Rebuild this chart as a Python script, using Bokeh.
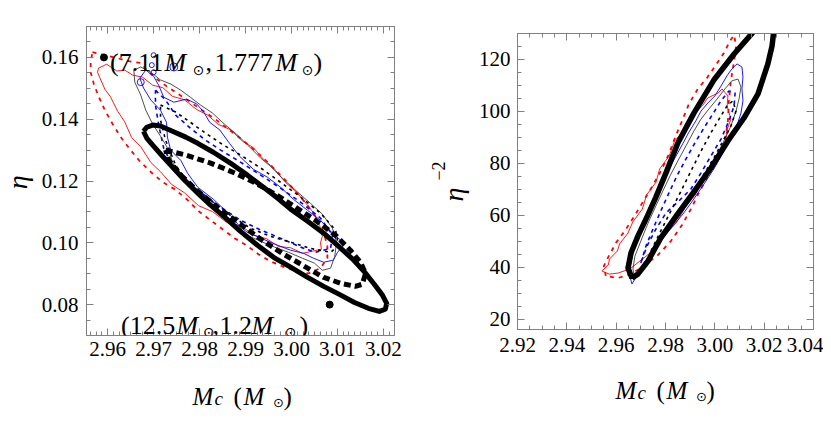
import math
from bokeh.plotting import figure
from bokeh.models import Label, LinearAxis, FixedTicker, CustomJSTickFormatter, Range1d
from bokeh.layouts import row, column
from bokeh.core.properties import value
from bokeh.embed import file_html
from bokeh.resources import INLINE

SERIF = "Liberation Serif"
SYM = "DejaVu Sans"
GRAY = "#808080"
RED = "#ff0000"
BLUE = "#0000ff"
THIN_BLACK = "#3a3a3a"

# ======================= LEFT PANEL DATA (Mc, eta) =======================
L_xticks = [2.96, 2.97, 2.98, 2.99, 3.00, 3.01, 3.02]
L_xtick_labels = ["2.96", "2.97", "2.98", "2.99", "3.00", "3.01", "3.02"]
L_yticks = [0.08, 0.10, 0.12, 0.14, 0.16]
L_ytick_labels = ["0.08", "0.10", "0.12", "0.14", "0.16"]

# Fisher ellipse (thick solid)
L_ell_x = [2.9678, 2.9685, 2.9698, 2.9715, 2.9741, 2.9770, 2.9796, 2.9830, 2.9867, 2.9904, 2.9939,
           2.9970, 2.9998, 3.0035, 3.0070, 3.0102, 3.0133, 3.0159, 3.0180, 3.0198, 3.0207, 3.0204,
           3.0191, 3.0167, 3.0137, 3.0104, 3.0070, 3.0035, 2.9998, 2.9961, 2.9926, 2.9889, 2.9857,
           2.9824, 2.9796, 2.9767, 2.9741, 2.9717, 2.9698, 2.9685, 2.9678]
L_ell_y = [0.1361, 0.1374, 0.1381, 0.1378, 0.1361, 0.1342, 0.1322, 0.1293, 0.1258, 0.1219, 0.1180,
           0.1144, 0.1109, 0.1070, 0.1031, 0.0989, 0.0947, 0.0905, 0.0866, 0.0830, 0.0804, 0.0785,
           0.0778, 0.0788, 0.0807, 0.0833, 0.0859, 0.0888, 0.0921, 0.0953, 0.0992, 0.1037, 0.1080,
           0.1122, 0.1161, 0.1203, 0.1245, 0.1284, 0.1316, 0.1339, 0.1361]

# thick dashed contour
L_tdash_x = [2.9726, 2.9770, 2.9824, 2.9878, 2.9922, 2.9965, 3.0009, 3.0052, 3.0096, 3.0128, 3.0150,
             3.0161, 3.0154, 3.0139, 3.0107, 3.0070, 3.0035, 2.9983, 2.9939, 2.9889, 2.9839, 2.9796,
             2.9759, 2.9733, 2.9726]
L_tdash_y = [0.1300, 0.1284, 0.1258, 0.1225, 0.1193, 0.1157, 0.1115, 0.1073, 0.1024, 0.0976, 0.0937,
             0.0901, 0.0866, 0.0859, 0.0869, 0.0888, 0.0918, 0.0963, 0.1005, 0.1060, 0.1115, 0.1167,
             0.1219, 0.1267, 0.1300]

# red solid contour
L_red_x = [2.9580, 2.9598, 2.9620, 2.9637, 2.9654, 2.9676, 2.9698, 2.9720, 2.9741, 2.9767, 2.9794,
           2.9817, 2.9841, 2.9867, 2.9894, 2.9917, 2.9939, 2.9961, 2.9987, 3.0011, 3.0033, 3.0050,
           3.0061, 3.0067, 3.0063, 3.0065, 3.0046, 3.0024, 2.9998, 2.9972, 2.9946, 2.9920, 2.9889,
           2.9859, 2.9828, 2.9798, 2.9767, 2.9739, 2.9715, 2.9694, 2.9672, 2.9652, 2.9637, 2.9622,
           2.9606, 2.9594, 2.9583, 2.9578, 2.9580]
L_red_y = [0.1565, 0.1578, 0.1556, 0.1559, 0.1543, 0.1536, 0.1510, 0.1502, 0.1474, 0.1463, 0.1431,
           0.1414, 0.1383, 0.1366, 0.1328, 0.1308, 0.1270, 0.1242, 0.1195, 0.1164, 0.1125, 0.1093,
           0.1057, 0.1021, 0.0999, 0.0979, 0.0973, 0.0966, 0.0984, 0.0988, 0.1013, 0.1024, 0.1055,
           0.1066, 0.1101, 0.1120, 0.1162, 0.1189, 0.1230, 0.1260, 0.1311, 0.1341, 0.1392, 0.1425,
           0.1473, 0.1497, 0.1534, 0.1552, 0.1565]

# red dashed contour
L_redd_x = [2.9567, 2.9594, 2.9620, 2.9646, 2.9672, 2.9685, 2.9704, 2.9728, 2.9754, 2.9780, 2.9809,
            2.9837, 2.9865, 2.9894, 2.9922, 2.9950, 2.9978, 3.0007, 3.0033, 3.0054, 3.0070, 3.0078,
            3.0078, 3.0063, 3.0037, 3.0009, 2.9980, 2.9954, 2.9928, 2.9902, 2.9876, 2.9850, 2.9824,
            2.9798, 2.9772, 2.9746, 2.9720, 2.9694, 2.9670, 2.9650, 2.9630, 2.9611, 2.9594, 2.9580,
            2.9570, 2.9563, 2.9563, 2.9567]
L_redd_y = [0.1617, 0.1607, 0.1598, 0.1588, 0.1582, 0.1559, 0.1533, 0.1507, 0.1481, 0.1455, 0.1426,
            0.1397, 0.1365, 0.1332, 0.1297, 0.1258, 0.1216, 0.1170, 0.1125, 0.1080, 0.1034, 0.0989,
            0.0950, 0.0918, 0.0901, 0.0908, 0.0924, 0.0940, 0.0963, 0.0992, 0.1015, 0.1044, 0.1073,
            0.1102, 0.1141, 0.1173, 0.1196, 0.1229, 0.1264, 0.1300, 0.1339, 0.1384, 0.1429, 0.1475,
            0.1514, 0.1552, 0.1585, 0.1617]

# blue solid contour
L_blue_x = [2.9670, 2.9683, 2.9700, 2.9711, 2.9722, 2.9744, 2.9772, 2.9794, 2.9809, 2.9822, 2.9844,
            2.9865, 2.9887, 2.9917, 2.9948, 2.9976, 3.0004, 3.0035, 3.0063, 3.0085, 3.0107, 3.0111,
            3.0100, 3.0091, 3.0070, 3.0048, 3.0026, 2.9998, 2.9970, 2.9933, 2.9904, 2.9889, 2.9867,
            2.9830, 2.9796, 2.9774, 2.9759, 2.9737, 2.9730, 2.9728, 2.9715, 2.9694, 2.9678, 2.9670]
L_blue_y = [0.1533, 0.1559, 0.1539, 0.1510, 0.1471, 0.1455, 0.1465, 0.1449, 0.1423, 0.1390, 0.1365,
            0.1322, 0.1280, 0.1238, 0.1212, 0.1180, 0.1141, 0.1105, 0.1073, 0.1037, 0.1008, 0.0989,
            0.0969, 0.0944, 0.0937, 0.0950, 0.0966, 0.0976, 0.0992, 0.1015, 0.1034, 0.1050, 0.1089,
            0.1141, 0.1180, 0.1225, 0.1267, 0.1300, 0.1342, 0.1390, 0.1429, 0.1462, 0.1501, 0.1533]

# blue dashed contour
L_blued_x = [2.9704, 2.9726, 2.9748, 2.9780, 2.9813, 2.9846, 2.9889, 2.9933, 2.9976, 3.0020, 3.0063,
             3.0089, 3.0085, 3.0052, 3.0020, 2.9976, 2.9933, 2.9889, 2.9846, 2.9802, 2.9770, 2.9741,
             2.9722, 2.9711, 2.9704, 2.9704]
L_blued_y = [0.1494, 0.1462, 0.1413, 0.1371, 0.1332, 0.1300, 0.1261, 0.1219, 0.1177, 0.1131, 0.1080,
             0.1025, 0.0982, 0.0969, 0.0986, 0.1015, 0.1041, 0.1073, 0.1115, 0.1164, 0.1203, 0.1251,
             0.1306, 0.1381, 0.1446, 0.1494]

# small blue islands
L_isl_x = [2.9700, 2.9696, 2.9744, 2.9700, 2.9672]
L_isl_y = [0.1607, 0.1575, 0.1569, 0.1552, 0.1520]

# black thin solid contour
L_blk_x = [2.9657, 2.9672, 2.9694, 2.9715, 2.9737, 2.9759, 2.9780, 2.9802, 2.9828, 2.9854, 2.9880,
           2.9907, 2.9933, 2.9954, 2.9980, 3.0011, 3.0041, 3.0067, 3.0089, 3.0098, 3.0094, 3.0085,
           3.0067, 3.0050, 3.0024, 2.9994, 2.9963, 2.9928, 2.9898, 2.9872, 2.9841, 2.9811, 2.9780,
           2.9759, 2.9741, 2.9733, 2.9715, 2.9698, 2.9683, 2.9672, 2.9659, 2.9657]
L_blk_y = [0.1559, 0.1569, 0.1552, 0.1527, 0.1514, 0.1494, 0.1471, 0.1446, 0.1420, 0.1384, 0.1352,
           0.1313, 0.1274, 0.1248, 0.1209, 0.1167, 0.1128, 0.1093, 0.1047, 0.1002, 0.0956, 0.0918,
           0.0911, 0.0934, 0.0950, 0.0969, 0.0986, 0.1008, 0.1028, 0.1060, 0.1102, 0.1138, 0.1177,
           0.1216, 0.1261, 0.1300, 0.1345, 0.1384, 0.1429, 0.1478, 0.1520, 0.1559]

# black thin dashed contour
L_blkd_x = [2.9715, 2.9748, 2.9780, 2.9813, 2.9846, 2.9889, 2.9933, 2.9976, 3.0020, 3.0063, 3.0096,
            3.0102, 3.0085, 3.0041, 2.9998, 2.9954, 2.9911, 2.9867, 2.9824, 2.9780, 2.9748, 2.9726,
            2.9715, 2.9715]
L_blkd_y = [0.1446, 0.1423, 0.1390, 0.1355, 0.1322, 0.1284, 0.1242, 0.1196, 0.1148, 0.1096, 0.1041,
            0.0992, 0.0969, 0.0982, 0.1002, 0.1021, 0.1047, 0.1089, 0.1138, 0.1186, 0.1251, 0.1332,
            0.1397, 0.1446]

# injected systems (7.11, 1.777) and (12.5, 1.2) Msun
L_pts_x = [2.9592, 3.0083]
L_pts_y = [0.1600, 0.0800]

# ======================= RIGHT PANEL DATA (Mc, eta^-2) =======================
R_xticks = [2.92, 2.94, 2.96, 2.98, 3.00, 3.02, 3.04]
R_xtick_labels = ["2.92", "2.94", "2.96", "2.98", "3.00", "3.02", "3.04"]
R_yticks = [20, 40, 60, 80, 100, 120]
R_ytick_labels = ["20", "40", "60", "80", "100", "120"]

R_ell_x = [2.9664, 2.9648, 2.9660, 2.9688, 2.9725, 2.9761, 2.9802, 2.9850, 2.9915, 2.9996, 3.0078,
           3.0167, 3.0240, 3.0232, 3.0215, 3.0175, 3.0118, 3.0053, 2.9984, 2.9915, 2.9846, 2.9781,
           2.9729, 2.9688, 2.9664]
R_ell_y = [35.9, 39.7, 45.5, 52.0, 59.4, 67.0, 76.3, 87.8, 99.3, 112.0, 122.0,
           131.7, 131.7, 125.1, 118.2, 106.7, 97.4, 88.6, 78.2, 69.0, 60.1, 51.3,
           42.4, 37.4, 35.9]

R_red_x = [2.9542, 2.9568, 2.9573, 2.9605, 2.9614, 2.9648, 2.9667, 2.9706, 2.9723, 2.9762, 2.9776,
           2.9815, 2.9837, 2.9884, 2.9906, 2.9949, 2.9971, 3.0013, 3.0029, 3.0053, 3.0050, 3.0065,
           3.0048, 3.0045, 3.0020, 2.9996, 2.9951, 2.9923, 2.9878, 2.9846, 2.9793, 2.9753, 2.9696,
           2.9656, 2.9608, 2.9572, 2.9542]
R_red_y = [38.6, 40.9, 43.2, 46.3, 49.0, 53.2, 57.4, 62.4, 67.8, 72.8, 77.8,
           82.8, 88.6, 93.6, 98.2, 102.0, 105.1, 107.0, 108.6, 105.9, 102.0, 97.0,
           92.4, 88.6, 84.7, 79.0, 73.2, 68.2, 62.8, 57.4, 51.7, 46.7, 42.4,
           39.4, 37.8, 37.4, 38.6]

R_redd_x = [2.9558, 2.9550, 2.9570, 2.9599, 2.9635, 2.9672, 2.9708, 2.9745, 2.9781, 2.9814, 2.9838,
            2.9867, 2.9895, 2.9931, 2.9968, 3.0004, 3.0037, 3.0061, 3.0078, 3.0086, 3.0078, 3.0065,
            3.0057, 3.0053, 3.0041, 3.0009, 2.9972, 2.9935, 2.9903, 2.9867, 2.9822, 2.9769, 2.9712,
            2.9660, 2.9607, 2.9558]
R_redd_y = [36.7, 40.5, 44.3, 49.4, 54.0, 59.4, 65.1, 70.9, 77.0, 83.6, 89.7,
            96.3, 102.8, 108.6, 112.8, 117.8, 122.4, 127.0, 129.3, 125.1, 119.3, 111.7,
            104.0, 96.3, 88.6, 81.7, 75.1, 68.6, 62.4, 56.3, 50.1, 44.7, 40.5,
            37.4, 35.9, 36.7]

R_blue_x = [2.9664, 2.9652, 2.9660, 2.9672, 2.9700, 2.9729, 2.9753, 2.9781, 2.9810, 2.9838, 2.9867,
            2.9895, 2.9923, 2.9944, 2.9972, 3.0000, 3.0025, 3.0049, 3.0069, 3.0090, 3.0110, 3.0114,
            3.0110, 3.0114, 3.0106, 3.0090, 3.0061, 3.0033, 2.9996, 2.9956, 2.9915, 2.9871, 2.9826,
            2.9781, 2.9741, 2.9708, 2.9684, 2.9664]
R_blue_y = [33.6, 37.8, 41.7, 47.0, 53.6, 60.1, 65.5, 70.9, 77.0, 82.0, 87.0,
            92.0, 96.3, 100.1, 103.2, 105.9, 109.7, 113.6, 116.3, 118.2, 117.0, 113.2,
            108.6, 104.0, 99.3, 94.7, 89.3, 84.0, 77.8, 72.0, 66.3, 60.5, 55.5,
            50.1, 45.5, 40.9, 36.7, 33.6]

R_blued_x = [2.9700, 2.9721, 2.9749, 2.9781, 2.9814, 2.9846, 2.9883, 2.9919, 2.9956, 2.9992, 3.0025,
             3.0057, 3.0082, 3.0078, 3.0057, 3.0025, 2.9984, 2.9944, 2.9903, 2.9854, 2.9802, 2.9761,
             2.9725, 2.9700]
R_blued_y = [41.7, 48.2, 54.7, 61.7, 68.6, 75.1, 81.7, 87.8, 93.6, 99.0, 104.0,
             107.8, 107.0, 102.0, 96.3, 89.3, 82.8, 76.3, 70.1, 65.5, 60.9, 54.7,
             48.2, 41.7]

R_blk_x = [2.9676, 2.9668, 2.9676, 2.9700, 2.9729, 2.9761, 2.9789, 2.9818, 2.9850, 2.9883, 2.9915,
           2.9944, 2.9976, 3.0009, 3.0041, 3.0069, 3.0094, 3.0106, 3.0098, 3.0086, 3.0065, 3.0033,
           2.9996, 2.9960, 2.9919, 2.9879, 2.9834, 2.9789, 2.9749, 2.9712, 2.9692, 2.9676]
R_blk_y = [35.5, 39.3, 44.3, 50.1, 57.0, 63.6, 69.3, 75.1, 80.9, 86.7, 92.4,
           97.0, 100.9, 104.7, 108.6, 111.7, 112.4, 109.3, 104.7, 100.1, 94.3, 87.8,
           80.9, 75.1, 68.6, 62.8, 57.0, 51.7, 46.3, 41.7, 37.8, 35.5]

R_blkd_x = [2.9741, 2.9781, 2.9822, 2.9863, 2.9903, 2.9944, 2.9984, 3.0017, 3.0049, 3.0073, 3.0086,
            3.0065, 3.0033, 2.9996, 2.9956, 2.9915, 2.9871, 2.9822, 2.9781, 2.9741]
R_blkd_y = [46.3, 54.0, 61.7, 69.3, 77.0, 84.7, 91.7, 97.0, 102.0, 104.0, 100.1,
            94.3, 88.6, 82.0, 75.9, 69.3, 62.8, 57.0, 51.7, 46.3]


# ======================= helpers =======================
def frange(start, stop, step):
    out = []
    k = 0
    while True:
        v = round(start + k * step, 6)
        if v > stop + 1e-9:
            break
        out.append(v)
        k += 1
    return out


def style_axis(ax, ticks, minor, labels=None):
    ax.ticker = FixedTicker(ticks=ticks, minor_ticks=minor)
    ax.axis_line_color = GRAY
    ax.major_tick_line_color = GRAY
    ax.minor_tick_line_color = GRAY
    ax.major_tick_in = 7
    ax.major_tick_out = 0
    ax.minor_tick_in = 4
    ax.minor_tick_out = 0
    if labels is None:
        ax.formatter = CustomJSTickFormatter(code="return ''")
        ax.major_label_standoff = 0
        ax.major_label_text_font_size = "1px"
    else:
        ax.major_label_overrides = {t: l for t, l in zip(ticks, labels)}
        ax.major_label_text_font = SERIF
        ax.major_label_text_font_size = "21px"
        ax.major_label_text_color = "black"


def lab(p, x, y, text, size, italic=False, font=SERIF, baseline="alphabetic", align="left"):
    # text inside a plot frame, placed in frame pixels
    p.add_layout(Label(x=x, y=y, x_units="screen", y_units="screen", text=text,
                       text_font=font, text_font_size=f"{size}px",
                       text_font_style="italic" if italic else "normal",
                       text_color="black", text_baseline=baseline, text_align=align))


def make_fig(xr, yr, fw, fh, bl, br, bt, bb):
    p = figure(x_range=Range1d(*xr), y_range=Range1d(*yr), frame_width=fw, frame_height=fh,
               min_border_left=bl, min_border_right=br, min_border_top=bt, min_border_bottom=bb,
               output_backend="svg", toolbar_location=None)
    p.grid.visible = False
    p.outline_line_color = GRAY
    p.background_fill_color = "white"
    p.border_fill_color = "white"
    return p


def text_fig(w, h):
    # blank canvas used for axis titles (pixel coordinates)
    t = figure(width=w, height=h, x_range=Range1d(0, w), y_range=Range1d(0, h),
               min_border=0, x_axis_location=None, y_axis_location=None,
               output_backend="svg", toolbar_location=None)
    t.grid.visible = False
    t.outline_line_color = None
    t.background_fill_color = "white"
    t.border_fill_color = "white"
    return t


def ttxt(t, x, y, s, size, italic=False, font=SERIF, align="left", baseline="alphabetic",
         angle=0.0):
    t.text(x=[x], y=[y], text=[s], text_font=value(font), text_font_size=value(f"{size}px"),
           text_font_style="italic" if italic else "normal", text_color="black",
           text_align=align, text_baseline=baseline, angle=angle)


def mc_title(t, x0, yb):
    # "M_c (M_sun)"
    ttxt(t, x0, yb, "M", 25, italic=True)
    ttxt(t, x0 + 22, yb - 1.5, "c", 19, italic=True)
    ttxt(t, x0 + 41, yb, "(", 25)
    ttxt(t, x0 + 51, yb, "M", 25, italic=True)
    ttxt(t, x0 + 86, yb - 5.7, "\u2299", 13, font=SYM, align="center", baseline="middle")
    ttxt(t, x0 + 91, yb, ")", 25)


ROW_H = 370

# ======================= LEFT FIGURE =======================
pl = make_fig((2.9554, 3.0224), (0.0700, 0.1700), 308, 309, 48, 14, 26, 35)
style_axis(pl.xaxis[0], L_xticks, frange(2.955, 3.0224, 0.00125), L_xtick_labels)
style_axis(pl.yaxis[0], L_yticks, frange(0.070, 0.170, 0.005), L_ytick_labels)
pl.xaxis[0].major_label_standoff = 6
pl.yaxis[0].major_label_standoff = 8
top_l = LinearAxis()
style_axis(top_l, L_xticks, frange(2.955, 3.0224, 0.00125))
pl.add_layout(top_l, "above")
right_l = LinearAxis()
style_axis(right_l, L_yticks, frange(0.070, 0.170, 0.005))
pl.add_layout(right_l, "right")

pl.line(L_redd_x, L_redd_y, line_color=RED, line_width=1.8, line_dash="4 5")
pl.line(L_red_x, L_red_y, line_color=RED, line_width=0.9, line_join="round")
pl.line(L_blue_x, L_blue_y, line_color=BLUE, line_width=0.9, line_join="round")
pl.line(L_blued_x, L_blued_y, line_color=BLUE, line_width=1.6, line_dash="4 4")
pl.scatter(L_isl_x, L_isl_y, size=[5, 5, 8, 5, 7], marker="circle", fill_color=None,
           line_color=BLUE, line_width=0.9)
pl.line(L_blk_x, L_blk_y, line_color=THIN_BLACK, line_width=0.9, line_join="round")
pl.line(L_blkd_x, L_blkd_y, line_color="black", line_width=1.6, line_dash="3 4")
pl.line(L_tdash_x, L_tdash_y, line_color="black", line_width=5, line_dash="7 4")
pl.line(L_ell_x, L_ell_y, line_color="black", line_width=5, line_join="round")
pl.scatter(L_pts_x, L_pts_y, size=7, marker="circle", color="black")

# annotation (7.11 Msun, 1.777 Msun)
yb1 = 273.3
lab(pl, 23.5, yb1, "(7.11", 26)
lab(pl, 78, yb1, "M", 26, italic=True)
lab(pl, 112, yb1 - 7.6, "\u2299", 14, font=SYM, baseline="middle", align="center")
lab(pl, 119, yb1, ",", 26)
lab(pl, 128, yb1, "1.777", 26)
lab(pl, 189, yb1, "M", 26, italic=True)
lab(pl, 221, yb1 - 7.6, "\u2299", 14, font=SYM, baseline="middle", align="center")
lab(pl, 227, yb1, ")", 26)
# annotation (12.5 Msun, 1.2 Msun)
yb2 = 10
lab(pl, 34.5, yb2, "(12.5", 26)
lab(pl, 90, yb2, "M", 26, italic=True)
lab(pl, 122.3, yb2 - 6, "\u2299", 14, font=SYM, baseline="middle", align="center")
lab(pl, 126, yb2, ",", 26)
lab(pl, 133, yb2, "1.2", 26)
lab(pl, 165, yb2, "M", 26, italic=True)
lab(pl, 204, yb2 - 6, "\u2299", 14, font=SYM, baseline="middle", align="center")
lab(pl, 213, yb2, ")", 26)

# ======================= RIGHT FIGURE =======================
pr = make_fig((2.92, 3.04), (16.1, 129.9), 296, 296, 47, 10, 33, 41)
style_axis(pr.xaxis[0], R_xticks, frange(2.92, 3.04, 0.005), R_xtick_labels)
style_axis(pr.yaxis[0], R_yticks, frange(20, 125, 5), R_ytick_labels)
pr.xaxis[0].major_label_standoff = 8
pr.yaxis[0].major_label_standoff = 7
top_r = LinearAxis()
style_axis(top_r, R_xticks, frange(2.92, 3.04, 0.005))
pr.add_layout(top_r, "above")
right_r = LinearAxis()
style_axis(right_r, R_yticks, frange(20, 125, 5))
pr.add_layout(right_r, "right")

pr.line(R_redd_x, R_redd_y, line_color=RED, line_width=1.8, line_dash="4 5")
pr.line(R_red_x, R_red_y, line_color=RED, line_width=0.9, line_join="round")
pr.line(R_blue_x, R_blue_y, line_color=BLUE, line_width=0.9, line_join="round")
pr.line(R_blued_x, R_blued_y, line_color=BLUE, line_width=1.6, line_dash="4 4")
pr.line(R_blk_x, R_blk_y, line_color=THIN_BLACK, line_width=0.9, line_join="round")
pr.line(R_blkd_x, R_blkd_y, line_color="black", line_width=1.6, line_dash="3 4")
pr.line(R_ell_x, R_ell_y, line_color="black", line_width=5.5, line_join="round")

# ======================= axis titles =======================
eta_l = text_fig(38, ROW_H)
ttxt(eta_l, 16.7, ROW_H - 181.7, "\u03b7", 28, italic=True, align="center", baseline="middle",
     angle=math.pi / 2)

eta_r = text_fig(62, ROW_H)
ttxt(eta_r, 44.5, ROW_H - 194, "\u03b7", 28, italic=True, align="center", baseline="middle",
     angle=math.pi / 2)
ttxt(eta_r, 30, ROW_H - 170.5, "\u22122", 18, align="center", baseline="middle",
     angle=math.pi / 2)

XL_H = 60
xlab = text_fig(823, XL_H)
mc_title(xlab, 192, ROW_H + XL_H - 396)
mc_title(xlab, 615, ROW_H + XL_H - 390)

layout = column(row(column(eta_l), column(pl), column(eta_r), column(pr)), xlab)
open("out.html", "w").write(file_html(layout, INLINE))
